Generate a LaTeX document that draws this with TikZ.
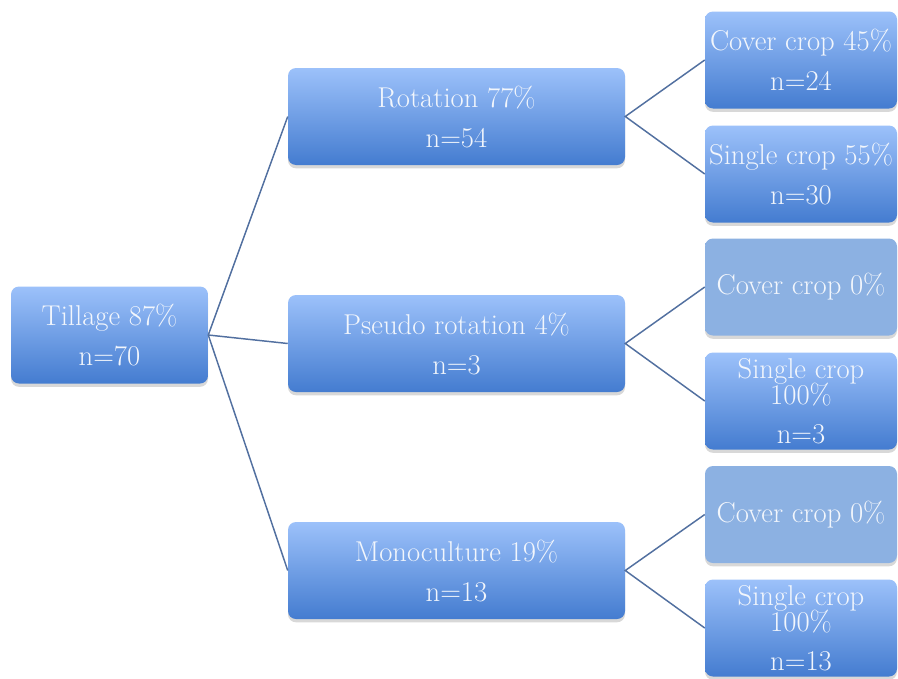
\documentclass[tikz,border=0pt]{standalone}
\usetikzlibrary{shadows}
\definecolor{boxtop}{RGB}{156,193,250}
\definecolor{boxbot}{RGB}{68,124,208}
\definecolor{boxflat}{RGB}{140,177,226}
\definecolor{boxtext}{RGB}{242,246,252}
\definecolor{linkc}{RGB}{82,112,160}
\tikzset{
  box/.style={rectangle,rounded corners=6pt,top color=boxtop,bottom color=boxbot,
    text=boxtext,align=center,inner sep=0pt,minimum height=72.75pt,
    font=\fontsize{21.5}{30}\selectfont,
    drop shadow={shadow xshift=0pt,shadow yshift=-2.5pt,opacity=0.3}},
  flatbox/.style={box,top color=boxflat,bottom color=boxflat},
  link/.style={draw=linkc,line width=1.1pt}
}
\begin{document}
\begin{tikzpicture}[x=0.75pt,y=-0.75pt]
\useasboundingbox[fill=white] (0,0) rectangle (898,678);
%left and middle column
\node[box,minimum width=147.75pt] (tillage) at(109.5,335) {Tillage 87\%\\n=70};
\node[box,minimum width=252.75pt] (rot) at(456.5,116.5) {Rotation 77\%\\n=54};
\node[box,minimum width=252.75pt] (pseudo) at(456.5,343.5) {Pseudo rotation 4\%\\n=3};
\node[box,minimum width=252.75pt] (mono) at(456.5,570.5) {Monoculture 19\%\\n=13};
%right column
\node[box,minimum width=144pt] (rotcover) at(801,60) {Cover crop 45\%\\n=24};
\node[box,minimum width=144pt] (rotsingle) at(801,174) {Single crop 55\%\\n=30};
\node[flatbox,minimum width=144pt] (pscover) at(801,287) {Cover crop 0\%};
\node[box,minimum width=144pt] (pssingle) at(801,401) {Single crop\\[-10.5pt]100\%\\[-0.75pt]n=3};
\node[flatbox,minimum width=144pt] (monocover) at(801,514.5) {Cover crop 0\%};
\node[box,minimum width=144pt] (monosingle) at(801,628) {Single crop\\[-10.5pt]100\%\\[-0.75pt]n=13};
\foreach \b in {rot,pseudo,mono}
\draw[link] (tillage.east)--(\b.west);
\draw[link] (rotcover.west)--(rot.east)--(rotsingle.west);
\draw[link] (pscover.west)--(pseudo.east)--(pssingle.west);
\draw[link] (monocover.west)--(mono.east)--(monosingle.west);
\end{tikzpicture}
\end{document}
